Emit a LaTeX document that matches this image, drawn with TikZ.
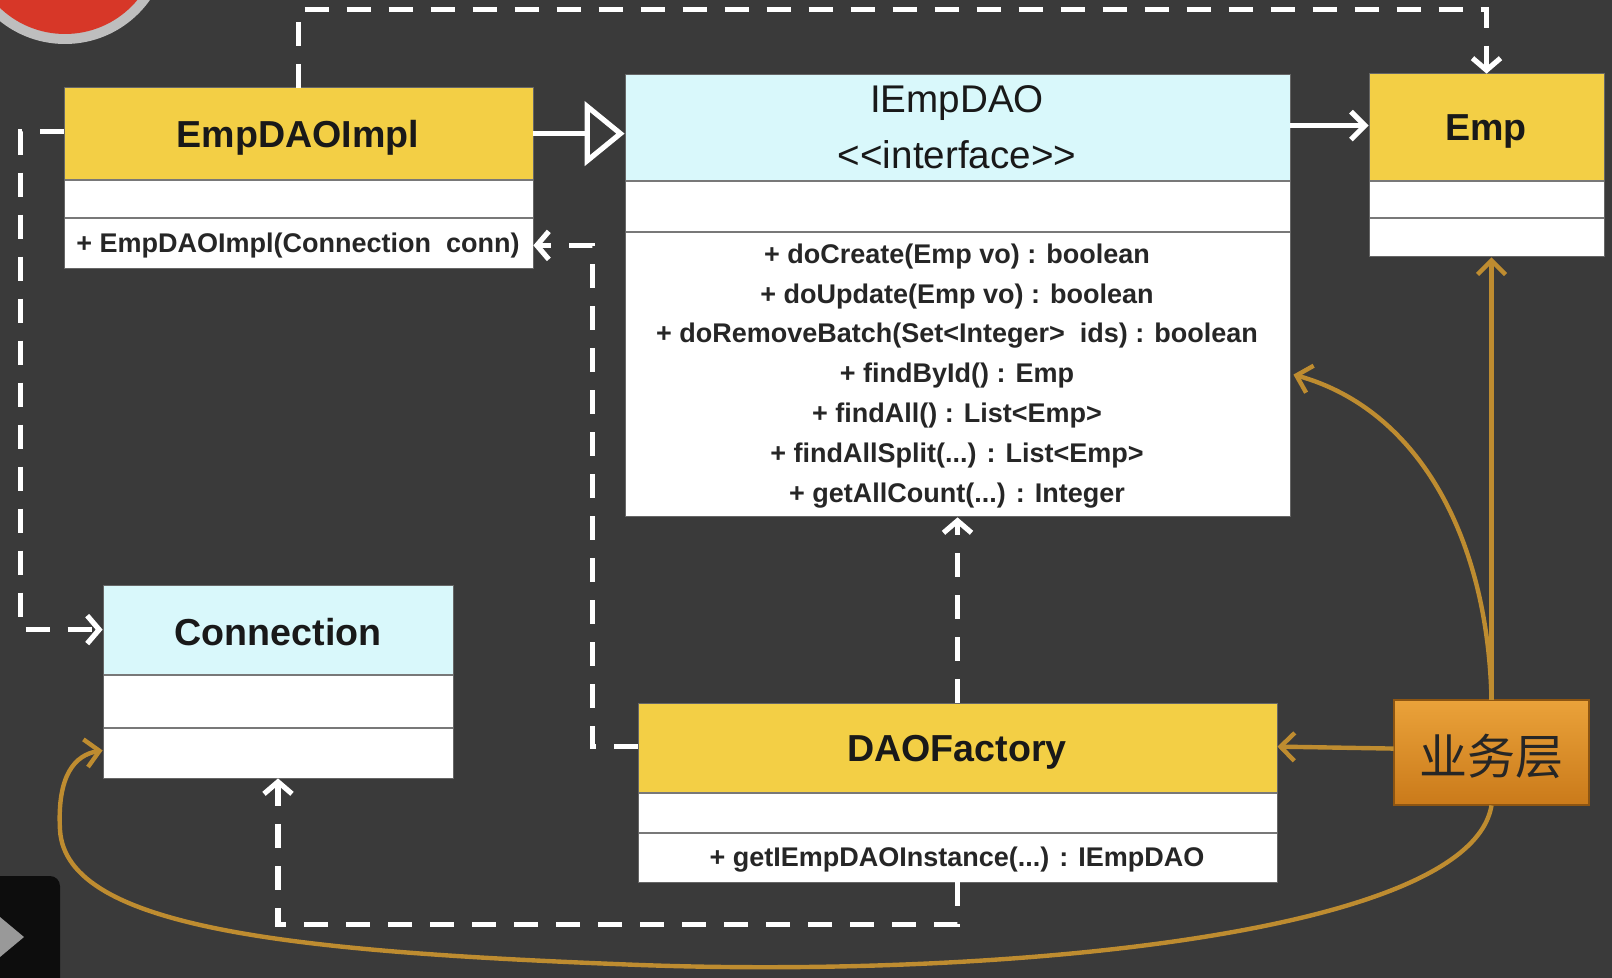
\documentclass[tikz,border=0pt]{standalone}
\usepackage{fontspec}
\setmainfont{Liberation Sans}
\newfontfamily\cjk{Noto Sans CJK SC}
\usetikzlibrary{arrows.meta,calc,fit}
\definecolor{bg}{RGB}{58,58,58}
\definecolor{hdrY}{RGB}{243,207,69}
\definecolor{hdrC}{RGB}{217,248,251}
\definecolor{bizc}{RGB}{190,140,48}
\definecolor{bizTop}{RGB}{234,162,58}
\definecolor{bizBot}{RGB}{202,122,26}
\definecolor{sepc}{RGB}{120,120,120}
\definecolor{ringc}{RGB}{190,190,190}
\definecolor{redc}{RGB}{215,55,40}
\newcommand\drawclass[8]{%
  \fill[white] (#2,#3) rectangle (#4,#5);
  \fill[#8] (#2,#3) rectangle (#4,#6);
  \draw[sepline] (#2,#6) -- (#4,#6) (#2,#7) -- (#4,#7);
  \draw[boxline] (#2,#3) rectangle (#4,#5);
  \node[fit={(#2,#3) (#4,#5)}, inner sep=0pt] (#1) {};
}
\newcommand\lt{\textless\kern0pt}
\newcommand\gt{\textgreater\kern0pt}
\begin{document}
\begin{tikzpicture}[x=0.5pt,y=-0.5pt,
  title/.style={font=\bfseries\fontsize{18.8}{20}\selectfont, text=black!90},
  titler/.style={font=\fontsize{19.3}{21}\selectfont, text=black!90},
  meth/.style={font=\bfseries\fontsize{13.5}{15}\selectfont, text=black!85},
  sepline/.style={draw=sepc, line width=0.8pt},
  boxline/.style={draw=black!60, line width=0.5pt},
  dep/.style={draw=white, line width=2.6pt, dash pattern=on 12pt off 9pt, -{Straight Barb[length=6pt,width=14pt]}},
  real/.style={draw=white, line width=2.6pt, -{Triangle[open, length=20pt, width=32pt, line width=2.6pt]}},
  assoc/.style={draw=white, line width=2.6pt, -{Straight Barb[length=7pt,width=14pt]}},
  bizl/.style={draw=bizc, line width=2.2pt, -{Straight Barb[length=7pt,width=14pt]}}
]
\fill[bg] (0,0) rectangle (1612,978);
\useasboundingbox (0,0) rectangle (1612,978);

% video overlay decorations
\fill[ringc] (65,-60) circle [radius=52pt];
\fill[redc] (65,-60) circle [radius=47pt];
\fill[black!95, rounded corners=5pt] (-20,876) rectangle (60,1000);
\fill[black!40] (0,917) -- (24,937) -- (0,957) -- cycle;

% classes
\drawclass{impl}{64}{88}{533}{269}{180}{218}{hdrY}
\drawclass{idao}{625}{75}{1290}{517}{181}{232}{hdrC}
\drawclass{emp}{1369}{74}{1604}{257}{181}{218}{hdrY}
\drawclass{conn}{103}{585}{453}{778}{675}{728}{hdrC}
\drawclass{fac}{638}{703}{1277}{882}{793}{833}{hdrY}

\shade[top color=bizTop, bottom color=bizBot] (1394,700) rectangle (1589,805);
\draw[draw=bizBot!70!black, line width=0.8pt] (1394,700) rectangle (1589,805);
\node[fit={(1394,700) (1589,805)}, inner sep=0pt] (biz) {};
\node[font=\cjk\fontsize{24}{26}\selectfont, text=black!85] (bizT) at (1491,756) {业务层};

% texts
\node[title] (implT) at (298,138) {EmpDAOImpl};
\node[meth] (implM) at (298,246) {+ EmpDAOImpl(Connection\ \ conn)};

\node[titler] (idaoT) at (957,103) {IEmpDAO};
\node[titler] (idaoS) at (957,155) {\lt\lt interface\gt\gt};
\node[meth] (m1) at (957,257) {+ doCreate(Emp vo) : boolean};
\node[meth] (m2) at (957,297) {+ doUpdate(Emp vo) : boolean};
\node[meth] (m3) at (957,336) {+ doRemoveBatch(Set\lt Integer\gt\ \ ids) : boolean};
\node[meth] (m4) at (957,376) {+ findById() : Emp};
\node[meth] (m5) at (957,416) {+ findAll() : List\lt Emp\gt};
\node[meth] (m6) at (957,456) {+ findAllSplit(...) : List\lt Emp\gt};
\node[meth] (m7) at (957,496) {+ getAllCount(...) : Integer};

\node[title] (empT) at (1486,131) {Emp};
\node[title] (connT) at (278,632) {Connection};
\node[title] (facT) at (957,752) {DAOFactory};
\node[meth] (facM) at (957,860) {+ getIEmpDAOInstance(...) : IEmpDAO};

% white connectors
\draw[dep] (impl.north) -- ++(0,-78) -| (emp.north);
\draw[dep] ($(impl.north west)+(0,44)$) -- ++(-43,0) |- ($(conn.north west)+(0,45)$);
\draw[real] ($(impl.north east)+(0,46)$) -- ($(idao.north west)+(0,59)$);
\draw[assoc] ($(idao.north east)+(0,51)$) -- ($(emp.north west)+(0,52)$);
\draw[dep] ($(fac.north west)+(0,44)$) -- ++(-45,0) |- ($(impl.south east)+(0,-24)$);
\draw[dep] (fac.north) -- (idao.south);
\draw[dep] (fac.south) -- ++(0,42) -| (conn.south);

% business-layer connectors
\draw[bizl] (biz.north) -- (biz.north |- emp.south);
\draw[bizl] (biz.north) .. controls (1488,540) and (1420,410) .. ($(idao.north east)+(3,300)$);
\draw[bizl] ($(biz.north west)+(0,49)$) -- ($(fac.north east)+(0,44)$);
\draw[bizl] (biz.south) .. controls (1470,935) and (1000,978) .. (640,965)
  .. controls (300,952) and (66,930) .. (60,830)
  .. controls (57,775) and (75,755) .. ($(conn.south west)+(0,-28)$);
\end{tikzpicture}
\end{document}
